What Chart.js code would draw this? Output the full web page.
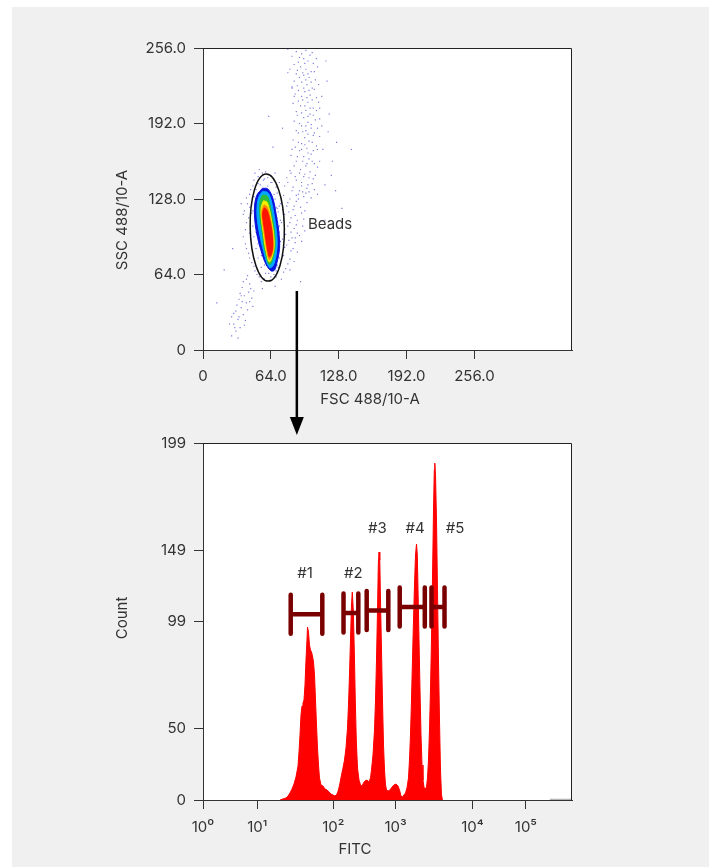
<!DOCTYPE html>
<html>
<head>
<meta charset="utf-8">
<title>Bead gating</title>
<script src="https://cdn.jsdelivr.net/npm/chart.js@4.4.1/dist/chart.umd.min.js"></script>
<style>
  html, body { margin: 0; padding: 0; background: #fff; }
  #panel { position: absolute; left: 12px; top: 7px; width: 697px; height: 860px; background: #f0f0f0; }
  canvas { position: absolute; left: 0; top: 0; }
</style>
</head>
<body>
<div id="panel"></div>
<canvas id="scatter-chart" width="709" height="867"></canvas>
<canvas id="hist-chart" width="709" height="867"></canvas>
<script>
// ---- Top plot: FSC vs SSC ----
const fscTicks = [0, 64, 128, 192, 256];
const fscTickLabels = ["0", "64.0", "128.0", "192.0", "256.0"];
const sscTicks = [0, 64, 128, 192, 256];
const sscTickLabels = ["0", "64.0", "128.0", "192.0", "256.0"];

// sparse events [fsc, ssc]
const sparseEvents = [
  // upper column
  [88,253],[93,251],[97,254],[101,250],[95,247],[90,244],[99,245],[104,243],[92,240],[97,238],
  [102,236],[88,234],[95,233],[100,231],[106,229],[93,227],[98,225],[103,222],[90,220],[96,219],
  [101,216],[107,214],[94,212],[99,210],[92,207],[104,205],[97,203],[101,200],[89,199],[95,197],
  [106,195],[99,193],[93,190],[102,188],[97,186],[90,184],[104,182],[96,180],[100,177],[93,175],
  [107,173],[98,171],[91,169],[102,166],[95,164],[100,162],[88,160],[105,158],[97,156],[92,153],
  [101,151],[96,149],[87,147],[104,145],[93,142],[99,140],[85,138],[91,135],[97,133],[88,131],
  [102,129],[80,142],[110,160],[112,190],[84,170],[86,215],[108,240],[110,205],[83,150],[105,136],
  [80,255],[84,249],[86,242],[91,248],[96,243],[103,252],[107,247],[82,238],[89,237],[94,235],
  [99,234],[105,236],[86,228],[91,231],[97,229],[102,227],[109,225],[84,223],[89,224],[95,222],
  [100,220],[105,221],[87,217],[93,215],[98,214],[103,212],[109,210],[85,209],[90,211],[96,207],
  [101,205],[107,203],[88,202],[93,201],[99,198],[104,199],[110,196],[86,194],[91,192],[97,190],
  [102,191],[108,188],[88,186],[94,185],[99,183],[105,184],[110,181],
  [85,178],[90,176],[96,174],[103,176],[108,170],[87,172],[93,170],[99,167],[104,169],[83,165],
  [89,164],[94,160],[98,158],[103,160],[108,155],[86,156],[91,150],[95,147],[100,146],[106,148],
  [82,152],[88,144],[93,139],[98,137],[103,141],[79,146],[84,135],[90,132],[95,130],[100,134],
  [77,139],[108,132],
  // right of the cluster
  [70,133],[76,131],[82,128],[88,126],[73,124],[79,122],[85,119],[92,121],[71,117],[77,115],
  [83,112],[89,110],[74,108],[80,105],[86,103],[72,100],[78,98],[84,95],[91,97],[73,92],
  [79,89],[85,86],[71,84],[76,80],[82,77],[73,73],[78,69],[94,105],[96,118],[87,91],[70,66],
  [68,128],[74,127],[80,125],[86,122],[90,128],[69,121],[75,119],[81,117],[87,114],[93,116],
  [70,112],[76,110],[82,108],[88,106],[95,111],[71,104],[77,102],[83,100],[89,99],[96,101],
  [70,96],[75,94],[81,93],[87,95],[93,92],[72,89],[77,87],[83,84],[89,83],[70,80],
  [74,77],[80,73],[86,75],[71,70],[76,66],[82,68],[69,62],[74,60],[98,125],[94,134],
  // left and above the cluster
  [52,147],[57,144],[61,146],[65,142],[47,139],[44,132],[50,136],[42,124],[46,116],[41,108],
  [44,99],[40,90],[43,82],[46,74],[49,67],[53,62],[58,60],[63,59],[38,115],[68,150],[56,150],[72,142],
  [48,144],[45,136],[41,129],[44,121],[39,118],[43,112],[40,102],[45,94],[41,86],[38,96],
  [44,78],[48,71],[51,64],[55,58],[36,124],[49,150],[53,153],[59,151],[64,148],
  // inside the gate, around the core
  [50,125],[49,112],[50,100],[52,90],[55,80],[58,72],[62,65],[67,64],[70,72],[71,88],
  [72,105],[70,120],[67,132],[61,139],[54,140],
  [47,118],[47,105],[48,96],[50,86],[52,78],[55,70],[59,65],[64,62],[69,67],[72,78],
  [73,92],[73,110],[72,122],[69,138],[64,142],[58,145],[52,141],[48,130],
  // lower-left tail
  [41,60],[44,56],[37,53],[43,49],[39,46],[34,43],[41,40],[36,36],[31,33],[38,30],
  [33,26],[29,22],[35,19],[31,16],[46,44],[47,37],[27,28],[40,25],[35,48],
  [42,63],[38,58],[45,52],[36,46],[32,38],[42,34],[37,41],[29,31],[34,28],[39,21],
  [30,19],[27,12],[33,10],[44,41],[48,50],[25,22],
  // scattered
  [13,40],[20,68],[28,86],[121,148],[126,176],[117,228],[119,200],[66,172],[75,188],[62,198],
  [80,235],[84,222],[131,120],[68,54],[56,52],[92,58],[115,110],[140,170],
  [113,170],[118,185],[122,160],[115,140],[125,135],[112,215],[116,245]
];

// density contours of the bead cluster, outer to inner
const contourBlue = [[56.0,137.1],[61.2,136.5],[65.9,128.6],[69.1,114.4],[71.5,100.3],[72.2,86.2],[69.6,73.5],[67.5,67.8],[64.4,67.0],[59.7,72.1],[56.0,80.5],[52.8,90.4],[50.3,100.3],[48.7,111.6],[48.7,122.9],[50.9,131.4]];
const contourCyan = [[56.2,134.4],[60.9,133.5],[64.2,127.2],[67.0,114.4],[69.4,100.0],[69.8,86.5],[67.5,74.6],[65.1,70.4],[62.8,69.9],[60.0,74.6],[56.8,84.8],[53.4,98.3],[51.1,111.9],[51.1,122.9],[53.0,130.5]];
const contourGreen = [[56.2,131.4],[60.4,130.5],[62.8,124.6],[65.1,113.6],[67.5,100.0],[67.9,86.5],[65.6,77.1],[63.7,72.9],[61.9,72.9],[60.2,78.0],[57.8,86.5],[55.9,99.2],[53.8,111.9],[53.4,122.1],[54.4,128.0]];
const contourYellow = [[57.0,126.5],[60.2,125.5],[62.5,119.5],[64.9,108.5],[66.8,97.0],[67.0,86.0],[65.0,78.5],[63.2,74.8],[61.8,75.2],[60.6,79.5],[58.6,87.5],[56.8,99.5],[55.0,111.5],[54.8,120.5]];
const contourOrange = [[57.5,123.0],[60.3,121.5],[62.6,115.0],[65.0,104.0],[66.2,93.0],[66.2,85.0],[64.5,79.5],[62.8,76.8],[61.8,78.0],[60.8,82.0],[59.4,88.5],[57.6,100.0],[55.8,111.0],[55.6,118.5]];
const contourRed = [[57.8,120.5],[60.3,118.5],[62.7,111.5],[64.9,101.0],[65.7,91.5],[65.4,84.5],[63.9,80.0],[62.5,79.0],[61.3,83.0],[60.0,89.5],[58.3,100.5],[56.5,111.0],[56.3,116.5]];

// gate + annotation positions in data units
const beadsGateCenter = [60.6, 103.8];
const beadsGateRadius = [16.1, 45.4];
const beadsLabelAt = [99, 106.8];
const arrowFrom = [88.5, 50];
const arrowTo = [88.5, -72];

// ---- Bottom plot: FITC histogram ----
const fitcTicks = [0, 147, 353, 522, 730, 875];
const fitcTickLabels = ["10⁰", "10¹", "10²", "10³", "10⁴", "10⁵"];
const countTicks = [0, 40.1, 99.4, 139.0, 199];
const countTickLabels = ["0", "50", "99", "149", "199"];

const fitcChannels = [208.7,216.8,224.9,230.4,235.8,241.2,246.6,252.0,257.5,260.2,
  262.9,265.6,268.3,271.0,273.7,276.4,279.1,281.8,283.2,285.9,
  288.6,291.3,294.0,296.7,299.5,302.2,304.9,307.6,310.3,313.0,
  315.7,319.8,325.2,330.6,336.0,341.5,346.9,352.3,357.7,363.1,
  367.2,371.3,375.3,379.4,383.5,387.5,391.6,394.3,397.0,399.7,
  402.4,404.6,407.3,410.0,412.7,415.4,418.7,422.8,426.8,430.9,
  435.0,439.0,444.4,449.9,453.9,456.6,460.7,464.8,467.5,470.2,
  472.9,475.1,477.0,479.1,481.0,483.7,486.4,489.2,491.9,494.6,
  497.3,501.4,506.8,512.2,517.6,523.0,528.5,532.5,536.6,540.6,
  544.7,548.8,552.8,556.9,559.6,562.3,565.0,567.7,570.5,573.2,
  575.9,578.6,580.8,582.7,585.4,588.1,590.8,593.5,596.2,598.9,
  601.6,605.7,608.4,611.1,613.8,616.5,619.2,621.9,624.7,626.8,
  628.2,630.1,632.8,635.5,638.2,640.9,643.6,646.3,649.0];
const fitcCounts = [0,0.6,1.1,2.2,3.9,6.1,8.9,12.8,19.0,26.8,
  36.2,47.4,52.4,54.1,55.7,64.1,78.0,89.2,96.4,93.6,
  86.4,83.6,82.5,80.3,76.9,69.7,55.7,41.8,29.0,19.5,
  12.3,8.4,7.8,6.1,5.6,4.5,3.3,2.8,2.2,3.3,
  5.6,9.5,13.9,17.8,22.3,29.0,40.1,53.0,69.7,89.2,
  108.7,115.9,105.9,83.6,55.7,33.4,17.8,11.1,8.4,7.8,
  9.5,10.6,11.1,10.0,12.3,16.7,25.1,39.0,55.7,78.0,
  105.9,131.0,138.2,133.8,111.5,83.6,55.7,30.7,16.7,8.4,
  5.6,5.0,5.6,7.2,8.4,8.9,7.8,5.6,2.2,1.7,
  2.8,3.9,6.7,12.3,22.3,36.2,55.7,78.0,100.3,119.8,
  136.6,142.7,136.6,117.1,89.2,61.3,36.2,19.5,11.1,7.2,
  6.1,7.2,12.3,22.3,39.0,61.3,89.2,122.6,161.6,183.9,
  187.8,181.2,156.1,117.1,78.0,44.6,16.7,2.8,0];
// overflow events near the top of the range
const tailChannels = [940, 1000];
const tailCounts = [0.3, 0.3];

// bead gates #1..#5
const gateNames = ["#1", "#2", "#3", "#4", "#5"];
const gateLow = [237.7, 380.8, 443.6, 533.1, 619.2];
const gateHigh = [323.3, 420.9, 502.2, 601.1, 654.5];
const gateLevel = [103.5, 104.2, 105.6, 107.6, 107.6];
const gateLabelX = [276.4, 407.3, 472.4, 574.5, 682.9];
const gateLabelY = [126.5, 126.5, 151.4, 151.4, 151.4];

Chart.defaults.font.family = "Inter, 'Noto Sans', sans-serif";
Chart.defaults.font.size = 15;
Chart.defaults.color = "#333";

const FONT = "15px Inter, 'Noto Sans', sans-serif";

// White plot background, top/right frame and axis titles
const framePlugin = {
  id: "frame",
  beforeDraw(chart) {
    const { ctx, chartArea: a } = chart;
    ctx.save();
    ctx.fillStyle = "#fff";
    ctx.fillRect(a.left, a.top, a.width, a.height);
    ctx.restore();
  },
  afterDraw(chart, args, opts) {
    const { ctx, chartArea: a } = chart;
    ctx.save();
    ctx.strokeStyle = "#222";
    ctx.lineWidth = 1;
    ctx.beginPath();
    ctx.moveTo(a.left, a.top + 0.5);
    ctx.lineTo(a.right - 0.5, a.top + 0.5);
    ctx.lineTo(a.right - 0.5, a.bottom);
    ctx.stroke();

    ctx.fillStyle = "#333";
    ctx.font = FONT;
    ctx.textAlign = "center";
    ctx.textBaseline = "middle";
    (opts.titles || []).forEach((t) => {
      ctx.save();
      ctx.translate(t.x, t.y);
      if (t.rotate) ctx.rotate(-Math.PI / 2);
      ctx.fillText(t.text, 0, 0);
      ctx.restore();
    });
    ctx.restore();
  }
};

// Beads ellipse gate, its label, and the arrow down to the histogram
const beadsGatePlugin = {
  id: "beadsGate",
  afterDatasetsDraw(chart) {
    const { ctx, scales: { x, y } } = chart;
    const cx = x.getPixelForValue(beadsGateCenter[0]);
    const cy = y.getPixelForValue(beadsGateCenter[1]);
    const rx = Math.abs(x.getPixelForValue(beadsGateCenter[0] + beadsGateRadius[0]) - cx);
    const ry = Math.abs(y.getPixelForValue(beadsGateCenter[1] + beadsGateRadius[1]) - cy);
    ctx.save();
    ctx.strokeStyle = "#111";
    ctx.lineWidth = 1.5;
    ctx.beginPath();
    ctx.ellipse(cx, cy, rx, ry, -0.02, 0, Math.PI * 2);
    ctx.stroke();

    ctx.fillStyle = "#333";
    ctx.font = FONT;
    ctx.textAlign = "left";
    ctx.textBaseline = "middle";
    ctx.fillText("Beads", x.getPixelForValue(beadsLabelAt[0]), y.getPixelForValue(beadsLabelAt[1]));
    ctx.restore();
  },
  afterDraw(chart) {
    const { ctx, scales: { x, y } } = chart;
    const ax = x.getPixelForValue(arrowFrom[0]);
    const y1 = y.getPixelForValue(arrowFrom[1]);
    const y2 = y.getPixelForValue(arrowTo[1]);
    ctx.save();
    ctx.strokeStyle = "#000";
    ctx.fillStyle = "#000";
    ctx.lineWidth = 2.5;
    ctx.beginPath();
    ctx.moveTo(ax, y1);
    ctx.lineTo(ax, y2 - 16);
    ctx.stroke();
    ctx.beginPath();
    ctx.moveTo(ax - 7, y2 - 18);
    ctx.lineTo(ax + 7, y2 - 18);
    ctx.lineTo(ax, y2);
    ctx.closePath();
    ctx.fill();
    ctx.restore();
  }
};

// Histogram range gates with their names
const histGatesPlugin = {
  id: "histGates",
  afterDatasetsDraw(chart) {
    const { ctx, scales: { x, y } } = chart;
    const half = 19.5;
    ctx.save();
    ctx.strokeStyle = "#7a0000";
    ctx.lineWidth = 4.5;
    ctx.lineCap = "round";
    gateNames.forEach((name, i) => {
      const x1 = x.getPixelForValue(gateLow[i]);
      const x2 = x.getPixelForValue(gateHigh[i]);
      const yc = y.getPixelForValue(gateLevel[i]);
      ctx.beginPath();
      ctx.moveTo(x1, yc);
      ctx.lineTo(x2, yc);
      ctx.moveTo(x1, yc - half);
      ctx.lineTo(x1, yc + half);
      ctx.moveTo(x2, yc - half);
      ctx.lineTo(x2, yc + half);
      ctx.stroke();
    });
    ctx.fillStyle = "#333";
    ctx.font = FONT;
    ctx.textAlign = "center";
    ctx.textBaseline = "middle";
    gateNames.forEach((name, i) => {
      ctx.fillText(name, x.getPixelForValue(gateLabelX[i]), y.getPixelForValue(gateLabelY[i]));
    });
    ctx.restore();
  }
};

function densityLevel(points, color, order) {
  const ring = points.concat([points[0]]);
  return {
    data: ring.map(([x, y]) => ({ x, y })),
    showLine: true,
    fill: "shape",
    tension: 0.35,
    pointRadius: 0,
    borderWidth: 1,
    borderColor: color,
    backgroundColor: color,
    order: order
  };
}

function axis(min, max, values, labels, size, horizontal, pad) {
  return {
    type: "linear",
    min: min,
    max: max,
    afterBuildTicks: (s) => { s.ticks = values.map((v) => ({ value: v })); },
    afterFit: (s) => { if (horizontal) s.height = size; else s.width = size; },
    ticks: {
      callback: (v, i) => labels[i],
      padding: pad,
      maxRotation: 0,
      autoSkip: false,
      color: "#333"
    },
    grid: { drawOnChartArea: false, drawTicks: true, tickLength: 9, color: "#333" },
    border: { color: "#333", width: 1 }
  };
}

const scatterChart = new Chart(document.getElementById("scatter-chart"), {
  type: "scatter",
  data: {
    datasets: [
      densityLevel(contourRed, "#ff1500", 1),
      densityLevel(contourOrange, "#ff8a00", 2),
      densityLevel(contourYellow, "#f4ee00", 3),
      densityLevel(contourGreen, "#2cba3a", 4),
      densityLevel(contourCyan, "#00aaff", 5),
      densityLevel(contourBlue, "#0a14dc", 6),
      {
        data: sparseEvents.map(([x, y]) => ({ x, y })),
        pointStyle: "rect",
        pointRadius: 0.85,
        backgroundColor: "rgba(80, 80, 210, 0.75)",
        borderWidth: 0,
        order: 7
      }
    ]
  },
  options: {
    responsive: false,
    animation: false,
    events: [],
    layout: { padding: { left: 100, top: 48, right: 137, bottom: 456 } },
    plugins: {
      legend: { display: false },
      tooltip: { enabled: false },
      frame: {
        titles: [
          { text: "FSC 488/10-A", x: 370, y: 399 },
          { text: "SSC 488/10-A", x: 122, y: 220, rotate: true }
        ]
      }
    },
    scales: {
      x: axis(0, 348, fscTicks, fscTickLabels, 61, true, 8),
      y: axis(0, 256, sscTicks, sscTickLabels, 103, false, 8)
    }
  },
  plugins: [framePlugin, beadsGatePlugin]
});

const histChart = new Chart(document.getElementById("hist-chart"), {
  type: "scatter",
  data: {
    datasets: [
      {
        data: fitcChannels.map((c, i) => ({ x: c, y: fitcCounts[i] })),
        showLine: true,
        fill: "origin",
        pointRadius: 0,
        borderWidth: 1,
        borderColor: "#ff0000",
        backgroundColor: "#ff0000"
      },
      {
        data: tailChannels.map((c, i) => ({ x: c, y: tailCounts[i] })),
        showLine: true,
        pointRadius: 0,
        borderWidth: 1.5,
        borderColor: "#b5b5b5"
      }
    ]
  },
  options: {
    responsive: false,
    animation: false,
    events: [],
    layout: { padding: { left: 100, top: 443, right: 137, bottom: 6 } },
    plugins: {
      legend: { display: false },
      tooltip: { enabled: false },
      frame: {
        titles: [
          { text: "FITC", x: 355, y: 849 },
          { text: "Count", x: 122, y: 618, rotate: true }
        ]
      }
    },
    scales: {
      x: axis(0, 1000, fitcTicks, fitcTickLabels, 61, true, 9),
      y: axis(0, 199, countTicks, countTickLabels, 103, false, 8)
    }
  },
  plugins: [framePlugin, histGatesPlugin]
});
</script>
</body>
</html>
